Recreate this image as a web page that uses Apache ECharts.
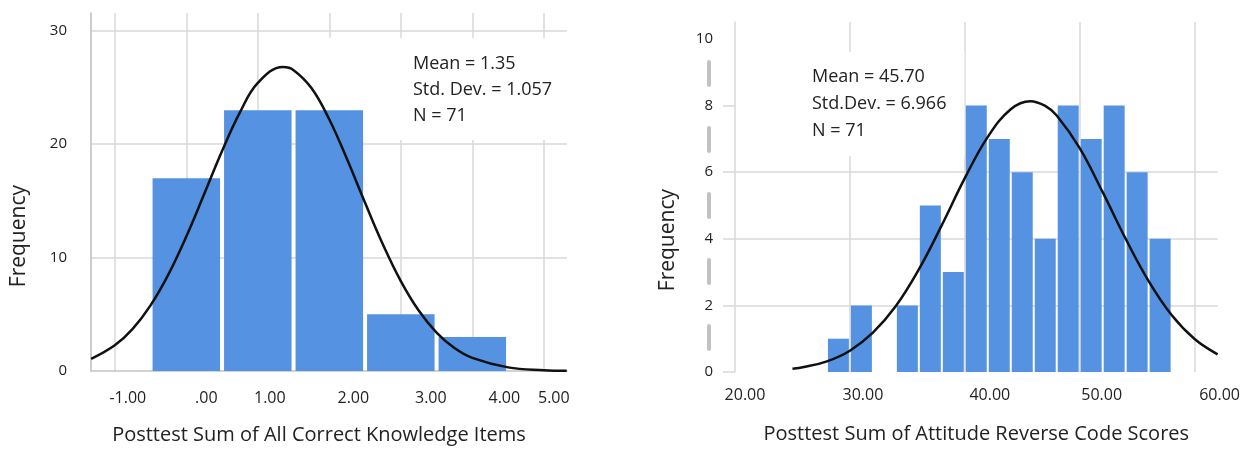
<!DOCTYPE html>
<html><head><meta charset="utf-8">
<script src="https://cdn.jsdelivr.net/npm/echarts@6/dist/echarts.min.js"></script>
<style>html,body{margin:0;padding:0;background:#fff}#c{width:1243px;height:450px}</style>
</head><body><div id="c"></div>
<script>
// ---------- Left histogram: Posttest Sum of All Correct Knowledge Items ----------
const leftBinLow = [-0.5, 0.5, 1.5, 2.5, 3.5];
const leftBinHigh = [0.5, 1.5, 2.5, 3.5, 4.5];
const leftCounts = [17, 23, 23, 5, 3];
const leftCurveX = [-1.33, -1, -0.75, -0.5, -0.25, 0, 0.25, 0.5, 0.75, 1, 1.35, 1.5, 1.75, 2, 2.25, 2.5, 2.75, 3, 3.25, 3.5, 3.75, 4, 4.5, 5, 5.32];
const leftCurveY = [1.08, 2.27, 3.72, 5.79, 8.52, 11.86, 15.6, 19.4, 22.8, 25.4, 26.8, 26.53, 24.95, 22.18, 18.65, 14.83, 11.15, 7.93, 5.33, 3.39, 2.03, 1.16, 0.32, 0.07, 0.02];
const leftTickValues = [-1, 0, 1, 2, 3, 4, 5];
const leftTickLabels = ['-1.00', '.00', '1.00', '2.00', '3.00', '4.00', '5.00'];
const leftYTicks = [0, 10, 20, 30];
const leftStats = ['Mean = 1.35', 'Std. Dev. = 1.057', 'N = 71'];
const leftXTitle = 'Posttest Sum of All Correct Knowledge Items';

// ---------- Right histogram: Posttest Sum of Attitude Reverse Code Scores ----------
const rightBinLow = [28, 30, 32, 34, 36, 38, 40, 42, 44, 46, 48, 50, 52, 54, 56];
const rightBinHigh = [30, 32, 34, 36, 38, 40, 42, 44, 46, 48, 50, 52, 54, 56, 58];
const rightCounts = [1, 2, 0, 2, 5, 3, 8, 7, 6, 4, 8, 7, 8, 6, 4];
const rightCurveX = [25, 26, 28, 30, 32, 34, 36, 38, 40, 42, 44, 45.7, 47, 48, 50, 52, 54, 56, 58, 60, 62];
const rightCurveY = [0.10, 0.15, 0.32, 0.64, 1.18, 1.98, 3.08, 4.41, 5.82, 7.06, 7.89, 8.13, 7.99, 7.70, 6.72, 5.40, 4.00, 2.73, 1.71, 0.99, 0.53];
const rightTickValues = [20, 30, 40, 50, 60];
const rightTickLabels = ['20.00', '30.00', '40.00', '50.00', '60.00'];
const rightYTicks = [0, 2, 4, 6, 8, 10];
const rightStats = ['Mean = 45.70', 'Std.Dev. = 6.966', 'N = 71'];
const rightXTitle = 'Posttest Sum of Attitude Reverse Code Scores';

const yTitle = 'Frequency';

// ---------- styling ----------
const FONT = 'Open Sans';
const BAR = '#5592e1';
const GRIDC = '#d9d9d9';
const TXT = '#222';

function histItem(inset) {
  return function (params, api) {
    const lo = api.value(0), hi = api.value(1), c = api.value(2);
    if (!c) return null;
    const p0 = api.coord([lo, c]);
    const p1 = api.coord([hi, 0]);
    return {
      type: 'rect',
      shape: { x: p0[0] + inset, y: p0[1], width: p1[0] - p0[0] - 2 * inset, height: p1[1] - p0[1] },
      style: { fill: BAR }
    };
  };
}

function labelFmt(values, labels) {
  return function (v) {
    const i = values.findIndex(t => Math.abs(t - v) < 1e-6);
    if (i < 0) return '';
    return '{s' + i + '|' + labels[i] + '}';
  };
}
function richPad(pads) {
  const r = {};
  pads.forEach((p, i) => { r['s' + i] = { padding: [0, 0, 0, p], fontSize: 16, color: TXT, fontFamily: FONT }; });
  return r;
}

const chart = echarts.init(document.getElementById('c'), null, { renderer: 'canvas' });

const option = {
  animation: false,
  backgroundColor: '#fff',
  textStyle: { fontFamily: FONT, color: TXT },
  title: [
    {
      text: leftStats.join('\n'), left: 320, top: 38, z: 1,
      backgroundColor: '#fff', padding: [13, 12, 11, 93],
      textStyle: { fontSize: 18, fontWeight: 'normal', color: TXT, lineHeight: 26, fontFamily: FONT }
    },
    {
      text: rightStats.join('\n'), left: 790, top: 52, z: 1,
      backgroundColor: '#fff', padding: [11, 18, 12, 22],
      textStyle: { fontSize: 18, fontWeight: 'normal', color: TXT, lineHeight: 27, fontFamily: FONT }
    }
  ],
  grid: [
    { left: 91, top: 13, width: 476, height: 361 },
    { left: 735, top: 22, width: 483, height: 350 }
  ],
  xAxis: [
    {
      type: 'value', gridIndex: 0, min: -1.333, max: 5.324, splitNumber: 6,
      axisLine: { show: true, onZero: false, lineStyle: { color: '#c4c4c4', width: 1.5 } },
      axisTick: { show: false },
      splitLine: { show: true, showMinLine: false, showMaxLine: false, lineStyle: { color: GRIDC, width: 1.5 } },
      axisLabel: {
        margin: 19, showMinLabel: false, showMaxLabel: false,
        formatter: labelFmt(leftTickValues, leftTickLabels),
        rich: richPad([26, 40, 24, 48, 60, 64, 20])
      },
      name: leftXTitle, nameLocation: 'middle', nameGap: 54,
      nameTextStyle: { fontSize: 20, color: TXT, fontFamily: FONT, padding: [0, 20, 0, 0] }
    },
    {
      type: 'value', gridIndex: 1, min: 20, max: 62, splitNumber: 4,
      axisLine: { show: false, onZero: false },
      axisTick: { show: false },
      splitLine: { show: true, showMinLine: false, showMaxLine: false, lineStyle: { color: GRIDC, width: 1.5 } },
      axisLabel: {
        margin: 15, showMinLabel: true, showMaxLabel: false,
        formatter: labelFmt(rightTickValues, rightTickLabels),
        rich: richPad([20, 26, 50, 44, 50])
      },
      name: rightXTitle, nameLocation: 'middle', nameGap: 52,
      nameTextStyle: { fontSize: 20, color: TXT, fontFamily: FONT }
    }
  ],
  yAxis: [
    {
      type: 'value', gridIndex: 0, min: 0, max: 31.57, interval: 10,
      axisLine: { show: true, onZero: false, lineStyle: { color: '#bdbdbd', width: 1.5 } },
      axisTick: { show: false },
      splitLine: { show: true, showMinLine: false, showMaxLine: false, lineStyle: { color: GRIDC, width: 1.5 } },
      axisLabel: {
        margin: 24, fontSize: 15, color: TXT, showMaxLabel: false,
        formatter: v => (leftYTicks.indexOf(v) >= 0 ? String(v) : '')
      }
    },
    {
      type: 'value', gridIndex: 1, min: 0, max: 10.51, interval: 2,
      axisLine: { show: true, onZero: false, lineStyle: { color: GRIDC, width: 1.5 } },
      axisTick: { show: true, length: 12, customValues: [0, 2, 4, 6, 8], lineStyle: { color: GRIDC, width: 1.5 } },
      splitLine: { show: true, showMinLine: false, showMaxLine: false, lineStyle: { color: GRIDC, width: 1.5 } },
      axisLabel: {
        margin: 22, fontSize: 15, color: TXT, showMaxLabel: false, padding: [0, 0, 7, 0],
        formatter: v => (rightYTicks.indexOf(v) >= 0 ? String(v) : '')
      }
    },
    {
      type: 'value', gridIndex: 1, min: 0, max: 10.51, position: 'left', offset: 26,
      axisLine: { show: true, onZero: false, lineStyle: { color: '#c2c2c2', width: 4, type: [23, 43], dashOffset: 43 } },
      axisTick: { show: false }, axisLabel: { show: false }, splitLine: { show: false }
    }
  ],
  graphic: [
    { type: 'text', left: 9, top: 185, rotation: Math.PI / 2, style: { text: yTitle, fontSize: 21, fill: TXT, fontFamily: FONT } },
    { type: 'text', left: 658, top: 189, rotation: Math.PI / 2, style: { text: yTitle, fontSize: 21, fill: TXT, fontFamily: FONT } }
  ],
  series: [
    {
      type: 'custom', xAxisIndex: 0, yAxisIndex: 0, z: 2,
      renderItem: histItem(2),
      encode: { x: [0, 1], y: 2 },
      data: leftBinLow.map((l, i) => [l, leftBinHigh[i], leftCounts[i]])
    },
    {
      type: 'line', xAxisIndex: 0, yAxisIndex: 0, z: 3, smooth: 0.4, symbol: 'none',
      lineStyle: { color: '#111', width: 2.5 },
      data: leftCurveX.map((x, i) => [x, leftCurveY[i]])
    },
    {
      type: 'custom', xAxisIndex: 1, yAxisIndex: 1, z: 2,
      renderItem: histItem(1),
      encode: { x: [0, 1], y: 2 },
      data: rightBinLow.map((l, i) => [l, rightBinHigh[i], rightCounts[i]])
    },
    {
      type: 'line', xAxisIndex: 1, yAxisIndex: 1, z: 3, smooth: 0.4, symbol: 'none',
      lineStyle: { color: '#111', width: 2.5 },
      data: rightCurveX.map((x, i) => [x, rightCurveY[i]])
    }
  ]
};
chart.setOption(option);
</script>
</body></html>
